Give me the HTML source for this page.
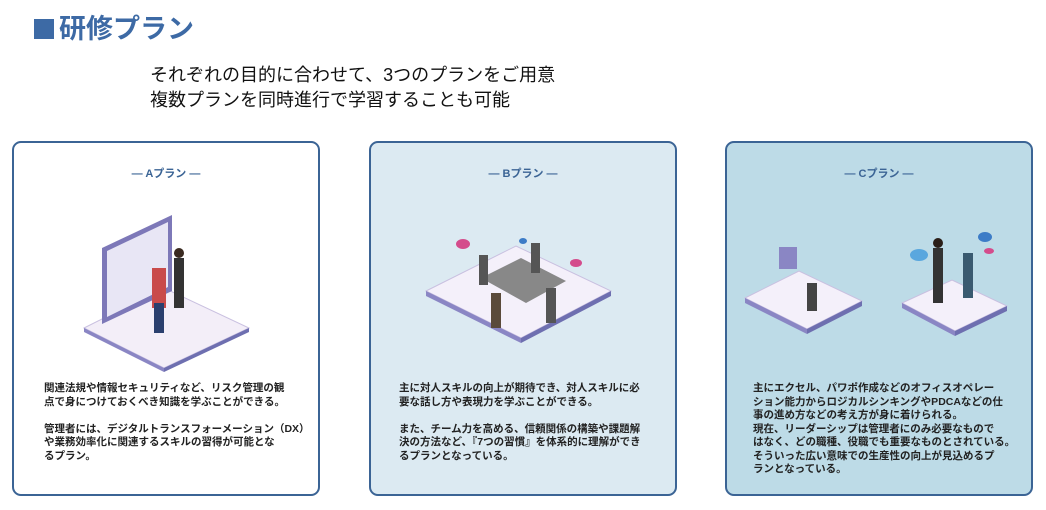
<!DOCTYPE html>
<html><head><meta charset="utf-8"><style>
body{margin:0;width:1046px;height:510px;background:#fff;position:relative;overflow:hidden;font-family:"Liberation Sans","Noto Sans CJK JP",sans-serif}
.t{position:absolute;left:34px;top:7px;font-size:27px;color:#3d6aa5;font-weight:bold}
.t span{display:inline-block;width:20px;height:20px;background:#3d6aa5;margin-right:5px;vertical-align:-1px}
.sub{position:absolute;left:150px;top:63px;font-size:18px;line-height:25px;color:#111}
.card{position:absolute;top:141px;width:308px;height:355px;border:2px solid #3b6495;border-radius:9px;box-sizing:border-box}
.h{position:absolute;top:22px;left:0;right:0;text-align:center;font-size:11px;font-weight:bold;color:#3b6495}
.p{position:absolute;font-size:10.5px;line-height:13.5px;font-weight:bold;color:#222}
svg{position:absolute;left:0;top:0}
</style></head><body>
<div class="t"><span></span>研修プラン</div>
<div class="sub">それぞれの目的に合わせて、3つのプランをご用意<br>複数プランを同時進行で学習することも可能</div>

<div class="card" style="left:12px;background:#fff">
<div class="h">— Aプラン —</div>
<svg width="305" height="240">
<polygon points="70,185 150,145 235,185 150,225" fill="#f3eef8" stroke="#c9c0e0"/>
<polygon points="70,185 150,225 150,229 70,189" fill="#8a86c4"/>
<polygon points="150,225 235,185 235,189 150,229" fill="#6e6fb0"/>
<polygon points="88,105 158,72 158,148 88,181" fill="#7d78b8"/>
<polygon points="93,108 154,79 154,144 93,174" fill="#e8e6f5"/>
<rect x="138" y="125" width="14" height="40" fill="#c94b4b"/>
<rect x="140" y="160" width="10" height="30" fill="#2a3f6e"/>
<rect x="160" y="115" width="10" height="50" fill="#333"/>
<circle cx="165" cy="110" r="5" fill="#3a2a20"/>
</svg>
<div class="p" style="left:30px;top:239px">関連法規や情報セキュリティなど、リスク管理の観<br>点で身につけておくべき知識を学ぶことができる。<br><br>管理者には、デジタルトランスフォーメーション（DX）<br>や業務効率化に関連するスキルの習得が可能とな<br>るプラン。</div>
</div>

<div class="card" style="left:369px;background:#dceaf2">
<div class="h">— Bプラン —</div>
<svg width="305" height="240">
<polygon points="55,148 145,103 240,148 150,195" fill="#f4f0fa" stroke="#c9c0e0"/>
<polygon points="55,148 150,195 150,200 55,153" fill="#8a86c4"/>
<polygon points="150,195 240,148 240,153 150,200" fill="#6e6fb0"/>
<polygon points="110,135 150,115 195,138 155,160" fill="#888"/>
<rect x="108" y="112" width="9" height="30" fill="#555"/>
<rect x="160" y="100" width="9" height="30" fill="#555"/>
<rect x="120" y="150" width="10" height="35" fill="#5a4a3a"/>
<rect x="175" y="145" width="10" height="35" fill="#555"/>
<ellipse cx="92" cy="101" rx="7" ry="5" fill="#d44c8c"/>
<ellipse cx="205" cy="120" rx="6" ry="4" fill="#d44c8c"/>
<ellipse cx="152" cy="98" rx="4" ry="3" fill="#3c7cc7"/>
</svg>
<div class="p" style="left:28px;top:239px">主に対人スキルの向上が期待でき、対人スキルに必<br>要な話し方や表現力を学ぶことができる。<br><br>また、チーム力を高める、信頼関係の構築や課題解<br>決の方法など、『7つの習慣』を体系的に理解ができ<br>るプランとなっている。</div>
</div>

<div class="card" style="left:725px;background:#bddbe7">
<div class="h">— Cプラン —</div>
<svg width="305" height="240">
<polygon points="18,155 72,128 135,158 80,186" fill="#f4f0fa" stroke="#c9c0e0"/>
<polygon points="18,155 80,186 80,191 18,160" fill="#8a86c4"/>
<polygon points="80,186 135,158 135,163 80,191" fill="#6e6fb0"/>
<polygon points="175,160 225,137 280,163 228,188" fill="#f4f0fa" stroke="#c9c0e0"/>
<polygon points="175,160 228,188 228,193 175,165" fill="#8a86c4"/>
<polygon points="228,188 280,163 280,168 228,193" fill="#6e6fb0"/>
<rect x="52" y="104" width="18" height="22" fill="#8a86c4"/>
<rect x="80" y="140" width="10" height="28" fill="#444"/>
<rect x="206" y="105" width="10" height="55" fill="#333"/>
<circle cx="211" cy="100" r="5" fill="#2a1e18"/>
<rect x="236" y="110" width="10" height="45" fill="#3a5a70"/>
<ellipse cx="192" cy="112" rx="9" ry="6" fill="#5aa7de"/>
<ellipse cx="258" cy="94" rx="7" ry="5" fill="#3c7cc7"/>
<ellipse cx="262" cy="108" rx="5" ry="3" fill="#d44c8c"/>
</svg>
<div class="p" style="left:26px;top:239px">主にエクセル、パワポ作成などのオフィスオペレー<br>ション能力からロジカルシンキングやPDCAなどの仕<br>事の進め方などの考え方が身に着けられる。<br>現在、リーダーシップは管理者にのみ必要なもので<br>はなく、どの職種、役職でも重要なものとされている。<br>そういった広い意味での生産性の向上が見込めるプ<br>ランとなっている。</div>
</div>
</body></html>
